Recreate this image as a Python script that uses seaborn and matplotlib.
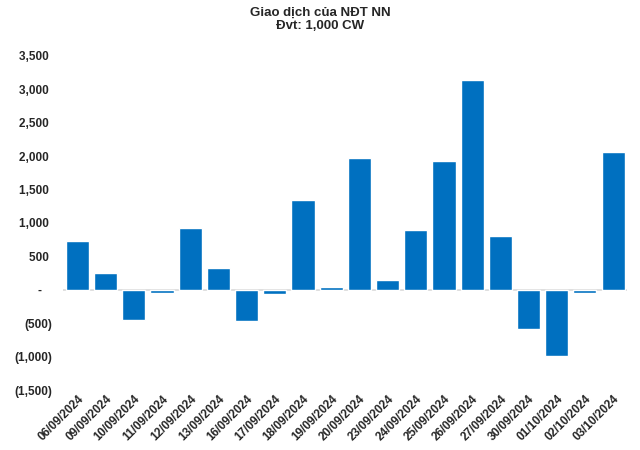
import matplotlib
matplotlib.use("Agg")
import matplotlib.pyplot as plt
import seaborn as sns
import pandas as pd
from matplotlib.ticker import FuncFormatter

dates = ["06/09/2024", "09/09/2024", "10/09/2024", "11/09/2024", "12/09/2024",
         "13/09/2024", "16/09/2024", "17/09/2024", "18/09/2024", "19/09/2024",
         "20/09/2024", "23/09/2024", "24/09/2024", "25/09/2024", "26/09/2024",
         "27/09/2024", "30/09/2024", "01/10/2024", "02/10/2024", "03/10/2024"]
values = [730, 255, -450, -40, 930,
          334, -460, -55, 1350, 45,
          1970, 150, 900, 1930, 3140,
          810, -590, -985, -50, 2065]
yticks = [-1500, -1000, -500, 0, 500, 1000, 1500, 2000, 2500, 3000, 3500]

sns.set_theme(style="white")
plt.rcParams['font.family'] = ['Liberation Sans', 'DejaVu Sans']

df = pd.DataFrame({"date": dates, "value": values})

fig = plt.figure(figsize=(6.4, 4.5), dpi=100)
ax = fig.add_axes([0.099, 0.133, 0.881, 0.743])
sns.barplot(data=df, x="date", y="value", color="#0070C0", saturation=1,
            width=0.82, ax=ax)

ax.set_ylim(-1500, 3500)
ax.set_yticks(yticks)

def fmt(v, pos):
    if v == 0:
        return "-   "
    if v < 0:
        return "({:,.0f})".format(-v)
    return "{:,.0f} ".format(v)

ax.yaxis.set_major_formatter(FuncFormatter(fmt))
ax.axhline(0, color="#d9d9d9", lw=1.2, zorder=0)
for s in ax.spines.values():
    s.set_visible(False)
ax.set_xlabel("")
ax.set_ylabel("")
ax.tick_params(axis="y", length=0, pad=8, labelsize=8.5)
ax.tick_params(axis="x", length=0, pad=2, labelsize=8.5)
for lab in ax.get_yticklabels():
    lab.set_fontweight("bold")
for lab in ax.get_xticklabels():
    lab.set_fontweight("bold")
    lab.set_rotation(45)
    lab.set_ha("right")
    lab.set_rotation_mode("anchor")
ax.set_xlim(-0.5, len(dates) - 0.5)

fig.text(0.5, 0.985, "Giao dịch của NĐT NN\nĐvt: 1,000 CW", ha="center", va="top",
         fontsize=9.5, fontweight="bold", linespacing=1.15)

fig.savefig("out.png", dpi=100)
